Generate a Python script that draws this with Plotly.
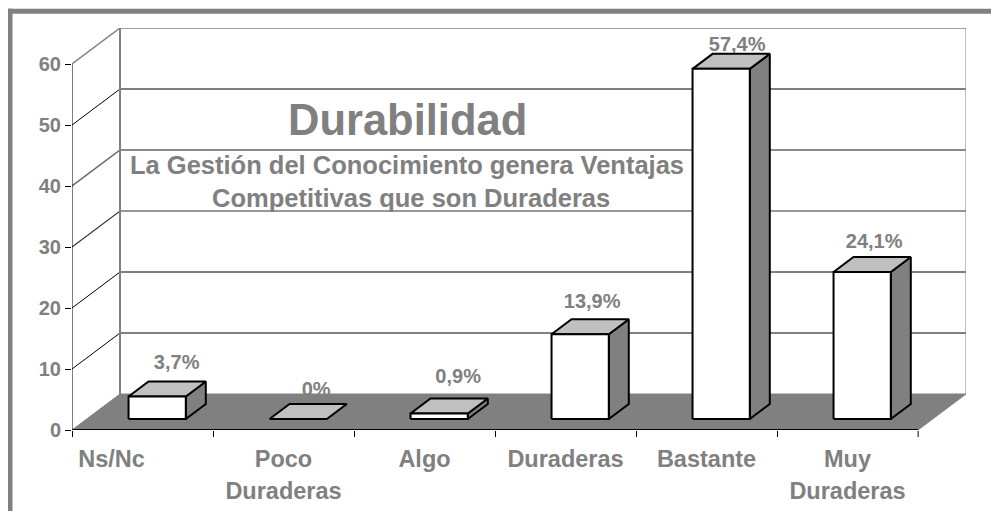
import plotly.graph_objects as go

categories = ["Ns/Nc", "Poco Duraderas", "Algo", "Duraderas", "Bastante", "Muy Duraderas"]
values = [3.7, 0, 0.9, 13.9, 57.4, 24.1]
value_labels = ["3,7%", "0%", "0,9%", "13,9%", "57,4%", "24,1%"]
y_ticks = [0, 10, 20, 30, 40, 50, 60]
title_text = "Durabilidad"
subtitle_lines = ["La Gestión del Conocimiento genera Ventajas", "Competitivas que son Duraderas"]

# layout constants
W, H = 991, 511
L, R, T, B = 72, 966, 28, 430
CAT_PX = 141.0
VAL_PX = 6.1
DX = 48 / CAT_PX
DY = 36 / VAL_PX
FRONT_D, BACK_D = 11 / 36, 26 / 36
HALF = 0.203
GRAY = "#808080"
LIGHT = "#C0C0C0"
FONT = "Liberation Sans, Arial, sans-serif"
n = len(categories)
ymax = max(y_ticks)


def p(c, v, d=0.0):
    return c + d * DX, v + d * DY


def poly(points):
    xs, ys = zip(*points)
    return list(xs) + [xs[0]], list(ys) + [ys[0]]


def line_trace(points, color, width):
    xs, ys = zip(*points)
    return go.Scatter(x=xs, y=ys, mode="lines", line=dict(color=color, width=width),
                      hoverinfo="skip", showlegend=False, cliponaxis=False)


def faces(items, fill, width=2):
    xs, ys = [], []
    for pts in items:
        a, b = poly(pts)
        xs += a + [None]
        ys += b + [None]
    return go.Scatter(x=xs, y=ys, mode="lines", fill="toself", fillcolor=fill,
                      line=dict(color="black", width=width), hoverinfo="skip",
                      showlegend=False, cliponaxis=False)


fig = go.Figure()

# walls
grid_style = {10: ("black", 1), 20: ("black", 1), 30: ("#333333", 1.2), 40: ("#666666", 1.5), 50: ("black", 1)}
for t in y_ticks[1:-1]:
    color, width = grid_style[t]
    fig.add_trace(line_trace([p(0, t), p(0, t, 1), p(n, t, 1)], color, width))
fig.add_trace(line_trace([p(0, 0, 1), p(0, ymax, 1)], GRAY, 2))
fig.add_trace(line_trace([p(0, ymax), p(0, ymax, 1), p(n, ymax, 1)], GRAY, 1.5))
fig.add_trace(line_trace([p(n, ymax, 1), p(n, 0, 1)], GRAY, 1))
fig.add_trace(line_trace([p(0, 0), p(0, ymax)], "black", 1))

# value labels sit behind the floor, as in the picture
label_nudge_px = [-0.5, -2, -1, -8, -4, -8]
label_gap_px = [17, 13, 21, 16, 8, 14]
lx, ly = [], []
for i, v in enumerate(values):
    x, y = p(i + 0.5, v, BACK_D)
    lx.append(x + label_nudge_px[i] / CAT_PX)
    ly.append(y + label_gap_px[i] / VAL_PX)
fig.add_trace(go.Scatter(x=lx, y=ly, mode="text", text=value_labels, textposition="middle center",
                         textfont=dict(family=FONT, size=20, color=GRAY, weight="bold"),
                         hoverinfo="skip", showlegend=False, cliponaxis=False))

# floor
fx, fy = poly([p(0, 0), p(n, 0), p(n, 0, 1), p(0, 0, 1)])
fig.add_trace(go.Scatter(x=fx, y=fy, mode="lines", fill="toself", fillcolor=GRAY,
                         line=dict(color=GRAY, width=1), hoverinfo="skip", showlegend=False))
fig.add_trace(line_trace([p(0, 0), p(n, 0)], "black", 2))

# bars
side, top, front = [], [], []
for i, v in enumerate(values):
    a, b = i + 0.5 - HALF, i + 0.5 + HALF
    top.append([p(a, v, FRONT_D), p(b, v, FRONT_D), p(b, v, BACK_D), p(a, v, BACK_D)])
    if v > 0:
        side.append([p(b, 0, FRONT_D), p(b, 0, BACK_D), p(b, v, BACK_D), p(b, v, FRONT_D)])
        front.append([p(a, 0, FRONT_D), p(b, 0, FRONT_D), p(b, v, FRONT_D), p(a, v, FRONT_D)])
fig.add_trace(faces(side, GRAY))
fig.add_trace(faces(top, LIGHT))
fig.add_trace(faces(front, "white"))

# helpers that make the overlay axes exist
for ax in ("x2", "x3"):
    fig.add_trace(go.Scatter(x=[0], y=[0], xaxis=ax, mode="none", hoverinfo="skip", showlegend=False))

first_lines = [c.split(" ", 1)[0] for c in categories]
second_lines = [c.split(" ", 1)[1] if " " in c else " " for c in categories]
first_shift = [-0.22, 0, 0, 0, 0, 0]
centers = [i + 0.5 + first_shift[i] for i in range(n)]
xr = [0, (R - L) / CAT_PX]
yr = [0, (B - T) / VAL_PX]
tick_font = dict(family=FONT, size=20, color=GRAY, weight="bold")
cat_font = dict(family=FONT, size=23.5, color=GRAY, weight="bold")

frame = [
    dict(type="rect", xref="paper", yref="paper",
         x0=(8 - L) / (R - L), x1=(W - L) / (R - L),
         y0=(B - 13.7) / (B - T), y1=(B - 8.8) / (B - T),
         fillcolor=GRAY, line_width=0, layer="below"),
    dict(type="rect", xref="paper", yref="paper",
         x0=(8 - L) / (R - L), x1=(12.5 - L) / (R - L),
         y0=(B - H) / (B - T), y1=(B - 8.8) / (B - T),
         fillcolor=GRAY, line_width=0, layer="below"),
    dict(type="line", xref="paper", yref="paper",
         x0=(918 - L) / (R - L), x1=(918 - L) / (R - L),
         y0=(B - 437) / (B - T), y1=(B - 431) / (B - T),
         line=dict(color=GRAY, width=1.5), layer="above"),
]


def note(text, x_px, y_px, size):
    return dict(text=text, xref="paper", yref="paper", showarrow=False,
                x=(x_px - L) / (R - L), y=(B - y_px) / (B - T), xanchor="center", yanchor="middle",
                font=dict(family=FONT, size=size, color=GRAY, weight="bold"))


fig.update_layout(
    width=W, height=H, paper_bgcolor="white", plot_bgcolor="white", showlegend=False,
    margin=dict(l=L, r=W - R, t=T, b=H - B, autoexpand=False),
    shapes=frame,
    annotations=[note(title_text, 407, 120, 43.5),
                 note(subtitle_lines[0], 406.5, 165, 25.5),
                 note(subtitle_lines[1], 410.5, 198, 25.5)],
    xaxis=dict(range=xr, tickmode="array", tickvals=list(range(n + 1)), ticktext=[""] * (n + 1),
               ticks="outside", ticklen=6, tickwidth=1, tickcolor="black",
               showgrid=False, zeroline=False, showline=False),
    xaxis2=dict(range=xr, overlaying="x", anchor="y", side="bottom", tickmode="array",
                tickvals=centers, ticktext=first_lines, ticks="", tickfont=cat_font, ticklabelstandoff=12,
                showgrid=False, zeroline=False, showline=False),
    xaxis3=dict(range=xr, overlaying="x", anchor="y", side="bottom", tickmode="array",
                tickvals=centers, ticktext=second_lines, ticks="", tickfont=cat_font, ticklabelstandoff=44,
                showgrid=False, zeroline=False, showline=False),
    yaxis=dict(range=yr, tickmode="array", tickvals=y_ticks, ticks="outside", ticklen=6,
               tickwidth=1, tickcolor="black", tickfont=tick_font,
               showgrid=False, zeroline=False, showline=False),
)
fig.write_html("out.html", config={"displayModeBar": False},
               post_script="document.body.style.margin='0';")
